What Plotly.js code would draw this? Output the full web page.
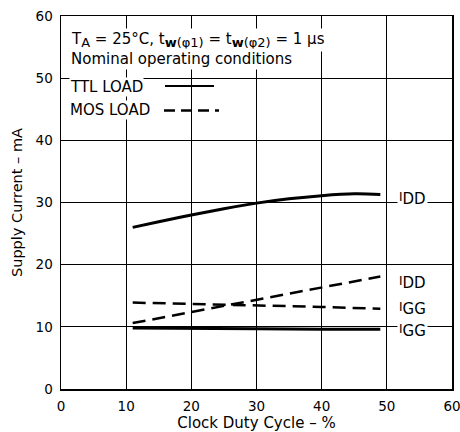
<!DOCTYPE html>
<html>
<head>
<meta charset="utf-8">
<script src="https://cdn.plot.ly/plotly-3.0.1.min.js"></script>
<style>html,body{margin:0;padding:0;background:#fff;}#chart{width:460px;height:432px;}</style>
</head>
<body>
<div id="chart"></div>
<script>
// Clock duty cycle (%)
const dutyTTL_IDD = [11, 15, 20, 25, 30, 35, 40, 45, 49];
const ttlIDD      = [26.0, 26.9, 28.0, 29.0, 29.9, 30.6, 31.1, 31.4, 31.3];
const dutyTTL_IGG = [11, 20, 30, 40, 49];
const ttlIGG      = [9.8, 9.8, 9.7, 9.6, 9.6];
const dutyMOS_IDD = [11, 20, 30, 40, 49];
const mosIDD      = [10.6, 12.4, 14.4, 16.4, 18.1];
const dutyMOS_IGG = [11, 20, 30, 40, 49];
const mosIGG      = [13.9, 13.7, 13.4, 13.2, 12.9];
const xTicks = [0, 10, 20, 30, 40, 50, 60];
const yTicks = [0, 10, 20, 30, 40, 50, 60];

const FONT = "DejaVu Sans, Verdana, sans-serif";
const solid = {color: '#000', width: 3};
const dashed = {color: '#000', width: 2.5, dash: '13px,7px'};

const traces = [
  {x: dutyTTL_IDD, y: ttlIDD, mode: 'lines', line: Object.assign({shape: 'spline'}, solid), name: 'TTL I_DD'},
  {x: dutyTTL_IGG, y: ttlIGG, mode: 'lines', line: solid, name: 'TTL I_GG'},
  {x: dutyMOS_IDD, y: mosIDD, mode: 'lines', line: dashed, name: 'MOS I_DD'},
  {x: dutyMOS_IGG, y: mosIGG, mode: 'lines', line: dashed, name: 'MOS I_GG'}
];

const labelFont = {family: FONT, size: 15, color: '#000'};
function curveLabel(sub, y) {
  return {x: 51.6, y: y, xref: 'x', yref: 'y',
          text: '<span style="font-size:12px">I</span><sub><span style="font-size:15px">' + sub + '</span></sub>',
          showarrow: false, xanchor: 'left', yanchor: 'middle', font: labelFont, bgcolor: '#fff', borderpad: 1};
}
function subBig(t) { return '<sub><span style="font-size:13px">' + t + '</span></sub>'; }
const annFont = {family: FONT, size: 15};

const layout = {
  width: 460, height: 432,
  margin: {l: 61, r: 8, t: 16, b: 43},
  paper_bgcolor: '#fff', plot_bgcolor: '#fff',
  showlegend: false,
  font: {family: FONT, size: 14, color: '#000'},
  xaxis: {
    range: [0, 60], tickvals: xTicks, ticktext: xTicks.map(String),
    showgrid: true, gridcolor: '#000', gridwidth: 1, zeroline: false,
    showline: true, linecolor: '#000', linewidth: 1.5, mirror: true,
    ticks: '', tickfont: {family: FONT, size: 13.5}, ticklabelstandoff: 4, ticklabeloverflow: 'allow',
    title: {text: 'Clock Duty Cycle – %', font: {family: FONT, size: 15}, standoff: 0}
  },
  yaxis: {
    range: [0, 60], tickvals: yTicks, ticktext: yTicks.map(String),
    showgrid: true, gridcolor: '#000', gridwidth: 1, zeroline: false,
    showline: true, linecolor: '#000', linewidth: 1.5, mirror: true,
    ticks: '', tickfont: {family: FONT, size: 13.5}, ticklabelstandoff: 4, ticklabeloverflow: 'allow',
    title: {text: 'Supply Current – mA', font: {family: FONT, size: 14.5}, standoff: 9}
  },
  shapes: [
    {type: 'line', xref: 'paper', yref: 'paper', x0: (165-61)/391, x1: (214-61)/391,
     y0: (389-86)/373, y1: (389-86)/373, line: {color: '#000', width: 2.2}},
    {type: 'line', xref: 'paper', yref: 'paper', x0: (164-61)/391, x1: (219-61)/391,
     y0: (389-110.5)/373, y1: (389-110.5)/373, line: {color: '#000', width: 2.5, dash: '11px,6px'}}
  ],
  annotations: [
    {xref: 'paper', yref: 'paper', x: (69-61)/391, y: (389-40)/373, xanchor: 'left', yanchor: 'middle',
     showarrow: false, font: annFont, bgcolor: '#fff',
     text: 'T' + subBig('A') + ' = 25°C, t' + subBig('<b>w</b>(φ1)') + ' = t' + subBig('<b>w</b>(φ2)') + ' = 1 μs'},
    {xref: 'paper', yref: 'paper', x: (69-61)/391, y: (389-59)/373, xanchor: 'left', yanchor: 'middle',
     showarrow: false, font: annFont, bgcolor: '#fff',
     text: 'Nominal operating conditions'},
    {xref: 'paper', yref: 'paper', x: (69-61)/391, y: (389-86.5)/373, xanchor: 'left', yanchor: 'middle',
     showarrow: false, font: annFont, bgcolor: '#fff', borderpad: 0, text: 'TTL LOAD'},
    {xref: 'paper', yref: 'paper', x: (69-61)/391, y: (389-110)/373, xanchor: 'left', yanchor: 'middle',
     showarrow: false, font: annFont, bgcolor: '#fff', borderpad: 0, text: 'MOS LOAD'},
    curveLabel('DD', 30.6),
    curveLabel('DD', 17.0),
    curveLabel('GG', 12.8),
    curveLabel('GG', 9.3)
  ]
};

Plotly.newPlot('chart', traces, layout, {staticPlot: true, displayModeBar: false});
</script>
</body>
</html>
